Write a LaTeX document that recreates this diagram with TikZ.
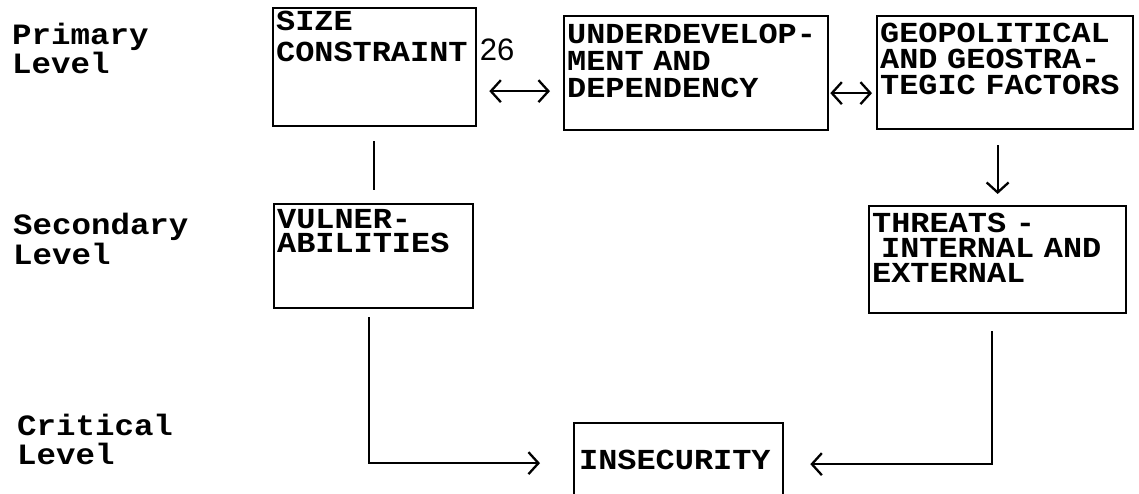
\documentclass[tikz,border=0pt]{standalone}
\usepackage{fontspec}
\usepackage{tikz}
\usetikzlibrary{arrows.meta}
\newfontfamily\typefont[FakeStretch=1.1]{Liberation Mono}
\newfontfamily\numfont{Liberation Sans}
\newcommand{\boxfont}[1][25]{\typefont\bfseries\fontsize{29}{#1}\selectfont}
\newcommand{\levelfont}{\typefont\bfseries\fontsize{29.5}{29}\selectfont}

\begin{document}
\begin{tikzpicture}[x=1pt, y=-1pt, >={Straight Barb[length=10pt,width=22pt]},
  every node/.style={inner sep=0pt},
  block/.style={draw, line width=2.3pt, anchor=north west, align=left,
    inner xsep=3pt, inner ysep=0pt, font=\boxfont},
  level/.style={anchor=base west, align=left, text width=200pt, font=\levelfont},
  link/.style={line width=2.3pt}]
  \useasboundingbox (0,0) rectangle (1139,494);
  \clip (0,0) rectangle (1139,494);
  % Niveauer
  \node[level] (lprim) at (12,45) {Primary\\Level};
  \node[level] (lsec) at (13,235) {Secondary\\Level};
  \node[level] (lcrit) at (17,435) {Critical\\Level};
  % Primary level
  \node[block, font={\boxfont[31]}, text width=197pt, text height=22pt, text depth=96pt] (size) at (272,7)
    {SIZE\\CONSTRAINT};
  \node[block, font={\boxfont[27]}, text width=258pt, text height=27pt, text depth=87pt] (under) at (563,15)
    {UNDERDEVELOP-\\MENT AND\\DEPENDENCY};
  \node[block, font={\boxfont[26]}, text width=250pt, text height=26pt, text depth=87pt] (geo) at (876,15)
    {GEOPOLITICAL\\AND GEOSTRA-\\TEGIC FACTORS};
  \node[font=\numfont\fontsize{31}{31}\selectfont] (num) at (497,50) {26};
  % Secondary level
  \node[block, font={\boxfont[24]}, text width=193pt, text height=24pt, text depth=80pt] (vuln) at (273,203)
    {VULNER-\\ABILITIES};
  \node[block, font={\boxfont[25]}, text width=251pt, text height=26pt, text depth=81pt] (threats) at (868,205)
    {THREATS -\\\hspace*{9pt}INTERNAL AND\\EXTERNAL};
  % Critical level
  \node[block, text width=199pt, inner xsep=5pt, text height=46pt, text depth=44pt] (insec) at (573,422)
    {INSECURITY};
  % Forbindelser
  \draw[link, <->, shorten <=12pt, shorten >=13pt]
    ([yshift=-24pt]size.east) -- ([yshift=-24pt]size.east -| under.west);
  \draw[link, <->, shorten <=1pt, shorten >=4pt]
    ([yshift=-20pt]under.east) -- ([yshift=-20pt]under.east -| geo.west);
  \draw[link, ->, shorten <=15pt, shorten >=11pt] (threats.north |- geo.south) -- (threats.north);
  \draw[link, shorten <=14pt, shorten >=13pt] (vuln.north |- size.south) -- (vuln.north);
  \draw[link, ->, shorten <=8pt, shorten >=33pt]
    ([xshift=-5pt]vuln.south) |- ([yshift=5pt]insec.west);
  \draw[link, ->, shorten <=17pt, shorten >=26pt]
    ([xshift=-6pt]threats.south) |- ([yshift=4pt]insec.east);
\end{tikzpicture}
\end{document}
